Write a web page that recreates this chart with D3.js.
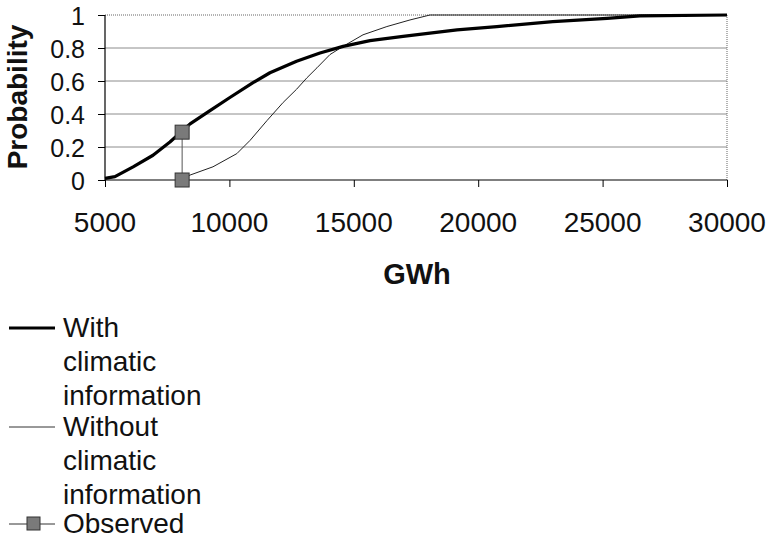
<!DOCTYPE html>
<html>
<head>
<meta charset="utf-8">
<script src="https://cdn.jsdelivr.net/npm/d3@7"></script>
<style>
  body { margin: 0; background: #fff; }
  svg { display: block; font-family: Arial, "Liberation Sans", sans-serif; }
</style>
</head>
<body>
<div id="chart"></div>
<script>
'use strict';

// values
var withX = [5000, 5400, 6130, 6930, 7610, 8420, 9220, 10020, 10950, 11630, 12700, 13640, 14570, 15650, 16980, 18060, 19150, 20750, 23000, 25180, 26500, 30000];
var withP = [0.01, 0.02, 0.08, 0.15, 0.23, 0.34, 0.42, 0.50, 0.59, 0.65, 0.72, 0.77, 0.81, 0.845, 0.87, 0.89, 0.91, 0.93, 0.96, 0.98, 0.995, 1.0];
var withoutX = [8000, 8420, 9340, 10300, 10830, 11510, 12160, 12700, 13120, 13520, 14040, 14570, 15370, 16330, 17260, 18060, 30000];
var withoutP = [0, 0.03, 0.08, 0.16, 0.24, 0.36, 0.47, 0.55, 0.62, 0.68, 0.76, 0.81, 0.88, 0.93, 0.97, 1.0, 1.0];
var observedX = [8100, 8100];
var observedP = [0.29, 0];
var xTicks = [5000, 10000, 15000, 20000, 25000, 30000];
var yTicks = [0, 0.2, 0.4, 0.6, 0.8, 1];
var legendLabels = [['With', 'climatic', 'information'], ['Without', 'climatic', 'information'], ['Observed']];

var width = 769, height = 542;
var plot = {left: 105, right: 727, top: 15, bottom: 180};

var svg = d3.select('#chart').append('svg').attr('width', width).attr('height', height);

var x = d3.scaleLinear().domain([5000, 30000]).range([plot.left, plot.right]);
var y = d3.scaleLinear().domain([0, 1]).range([plot.bottom, plot.top]);

function zipPoints(xs, ys) {
  return xs.map(function(v, i) { return [v, ys[i]]; });
}

// gridlines
svg.append('g').selectAll('line').data(yTicks.filter(function(t) { return t > 0 && t < 1; }))
  .enter().append('line')
  .attr('x1', plot.left).attr('x2', plot.right)
  .attr('y1', function(d) { return y(d); }).attr('y2', function(d) { return y(d); })
  .attr('stroke', '#8c8c8c').attr('stroke-width', 1);

// top and right border, dotted
svg.append('path')
  .attr('d', 'M' + plot.left + ',' + y(1) + 'H' + plot.right + 'V' + plot.bottom)
  .attr('fill', 'none').attr('stroke', '#666').attr('stroke-width', 1).attr('stroke-dasharray', '1,1');

// axes
var xAxis = d3.axisBottom(x).tickValues(xTicks).tickSize(7).tickFormat(function() { return ''; });
var yAxis = d3.axisLeft(y).tickValues(yTicks).tickSize(7).tickFormat(function() { return ''; });
var gx = svg.append('g').attr('transform', 'translate(0,' + plot.bottom + ')').call(xAxis);
var gy = svg.append('g').attr('transform', 'translate(' + plot.left + ',0)').call(yAxis);
[gx, gy].forEach(function(g) {
  g.select('.domain').attr('stroke', '#000').attr('stroke-width', 1.2);
  g.selectAll('.tick line').attr('stroke', '#000');
});
gx.select('.domain').attr('d', 'M' + plot.left + ',0H' + plot.right);
gy.select('.domain').attr('d', 'M0,' + plot.bottom + 'V' + plot.top);

// tick labels
svg.append('g').selectAll('text').data(xTicks).enter().append('text')
  .attr('x', function(d) { return x(d); }).attr('y', 232)
  .attr('text-anchor', 'middle').attr('font-size', 28).attr('fill', '#111')
  .text(function(d) { return d; });

svg.append('g').selectAll('text').data(yTicks).enter().append('text')
  .attr('x', 85).attr('y', function(d) { return y(d) + 10; })
  .attr('text-anchor', 'end').attr('font-size', 25).attr('fill', '#111')
  .text(function(d) { return d; });

// axis titles
svg.append('text').attr('transform', 'translate(27,97) rotate(-90)')
  .attr('text-anchor', 'middle').attr('font-size', 28).attr('font-weight', 'bold').attr('fill', '#111')
  .text('Probability');
svg.append('text').attr('x', 417).attr('y', 284)
  .attr('text-anchor', 'middle').attr('font-size', 29).attr('font-weight', 'bold').attr('fill', '#111')
  .text('GWh');

// series
var line = d3.line().x(function(d) { return x(d[0]); }).y(function(d) { return y(d[1]); });

svg.append('path').datum(zipPoints(withoutX, withoutP))
  .attr('d', line).attr('fill', 'none').attr('stroke', '#222').attr('stroke-width', 1);

svg.append('path').datum(zipPoints(withX, withP))
  .attr('d', line).attr('fill', 'none').attr('stroke', '#000').attr('stroke-width', 3.2)
  .attr('stroke-linejoin', 'round');

var observed = zipPoints(observedX, observedP);
svg.append('path').datum(observed)
  .attr('d', line).attr('fill', 'none').attr('stroke', '#555').attr('stroke-width', 1);
svg.append('g').selectAll('rect').data(observed).enter().append('rect')
  .attr('x', function(d) { return x(d[0]) - 7; }).attr('y', function(d) { return y(d[1]) - 7; })
  .attr('width', 14).attr('height', 14)
  .attr('fill', '#7a7a7a').attr('stroke', '#333').attr('stroke-width', 1);

// legend
var legend = svg.append('g');
var legendTops = [337, 436, 533];
var lineStyles = [
  {w: 3, c: '#000'},
  {w: 1, c: '#333'},
  {w: 1, c: '#333'}
];
legendLabels.forEach(function(lines, i) {
  var base = legendTops[i];
  var gap = 34;
  legend.append('line')
    .attr('x1', 9).attr('x2', 55).attr('y1', base - 9).attr('y2', base - 9)
    .attr('stroke', lineStyles[i].c).attr('stroke-width', lineStyles[i].w);
  if (i === 2) {
    legend.append('rect').attr('x', 27).attr('y', base - 16).attr('width', 13).attr('height', 13)
      .attr('fill', '#7a7a7a').attr('stroke', '#333').attr('stroke-width', 1);
  }
  legend.append('g').selectAll('text').data(lines).enter().append('text')
    .attr('x', 63).attr('y', function(d, j) { return base + j * gap; })
    .attr('font-size', 28).attr('fill', '#111')
    .text(function(d) { return d; });
});
</script>
</body>
</html>
